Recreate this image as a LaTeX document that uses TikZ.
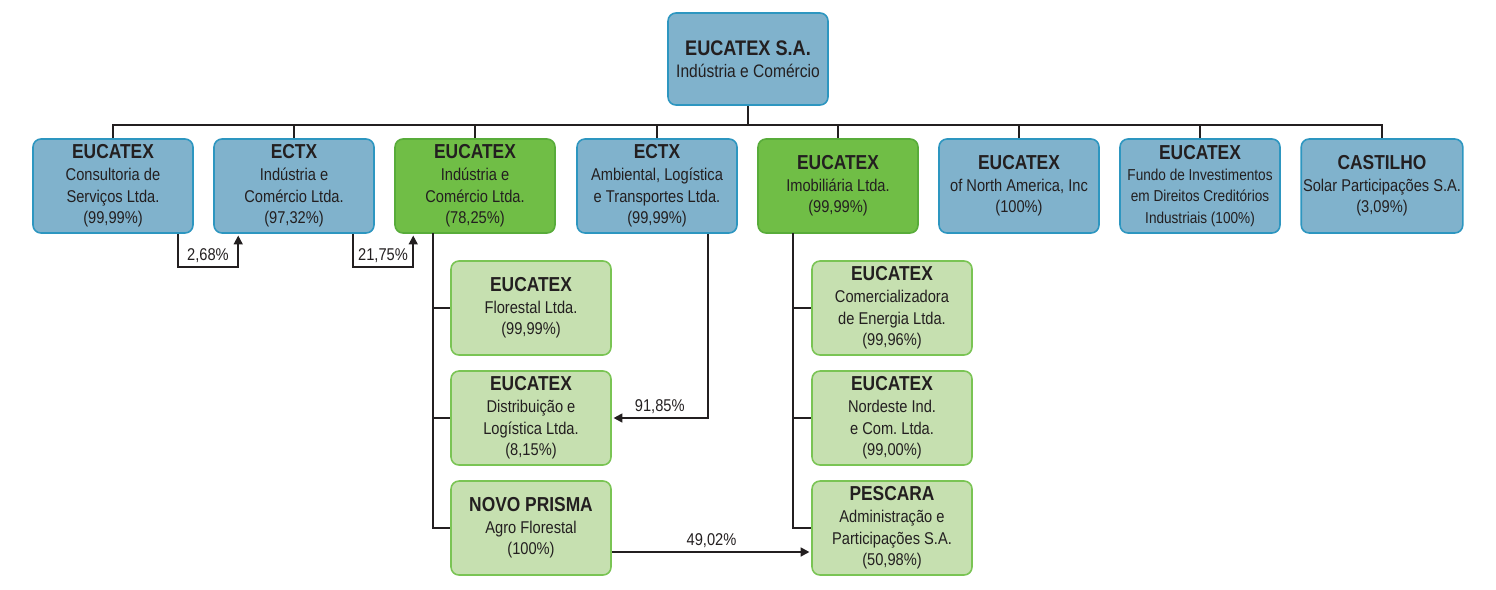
\documentclass[tikz,border=0pt]{standalone}
\usepackage{fontspec}
\setmainfont{Liberation Sans}[FakeStretch=0.86]
\usepackage{xcolor}
\usetikzlibrary{arrows.meta}

\definecolor{unitblue}{RGB}{128,178,204}
\definecolor{edgeblue}{RGB}{45,150,192}
\definecolor{unitgreen}{RGB}{112,190,70}
\definecolor{edgegreen}{RGB}{88,172,58}
\definecolor{unitpale}{RGB}{198,224,176}
\definecolor{edgepale}{RGB}{122,196,84}
\definecolor{inkgray}{RGB}{35,31,32}

\newcommand{\hd}[1]{{\fontsize{11.5}{12.3}\selectfont\bfseries #1}}
\frenchspacing

\begin{document}
\begin{tikzpicture}[x=0.02cm, y=-0.02cm,
  unit/.style={line width=0.9pt, rounded corners=4.5pt, minimum width=3.2cm,
    minimum height=1.88cm, inner sep=1pt, align=center, text=inkgray,
    font=\fontsize{9.7}{12.3}\selectfont},
  blueunit/.style={unit, draw=edgeblue, fill=unitblue},
  greenunit/.style={unit, draw=edgegreen, fill=unitgreen},
  paleunit/.style={unit, draw=edgepale, fill=unitpale},
  link/.style={line width=1.1pt, draw=inkgray},
  stake/.style={link, -{Triangle[length=5pt,width=5pt]}, shorten >=1pt},
  pct/.style={text=inkgray, font=\fontsize{9.7}{12}\selectfont, inner sep=2pt, above}
]
  \useasboundingbox (0,0) rectangle (1496,589);

  % Holding
  \node[blueunit, minimum height=1.84cm,
    font=\fontsize{10.3}{12.8}\selectfont] (top) at (748,59)
    {{\fontsize{12}{12.8}\selectfont\bfseries EUCATEX S.A.}\\Indústria e Comércio};

  % First level
  \node[blueunit] (c1) at (113,186) {\hd{EUCATEX}\\Consultoria de\\Serviços Ltda.\\(99,99\%)};
  \node[blueunit] (c2) at (294,186) {\hd{ECTX}\\Indústria e\\Comércio Ltda.\\(97,32\%)};
  \node[greenunit] (c3) at (475,186) {\hd{EUCATEX}\\Indústria e\\Comércio Ltda.\\(78,25\%)};
  \node[blueunit] (c4) at (657,186) {\hd{ECTX}\\Ambiental, Logística\\e Transportes Ltda.\\(99,99\%)};
  \node[greenunit] (c5) at (838,186) {\hd{EUCATEX}\\Imobiliária Ltda.\\(99,99\%)};
  \node[blueunit] (c6) at (1019,186) {\hd{EUCATEX}\\of North America, Inc\\(100\%)};
  \node[blueunit, font=\fontsize{9}{12}\selectfont] (c7) at (1200,186)
    {\hd{EUCATEX}\\Fundo de Investimentos\\em Direitos Creditórios\\Industriais (100\%)};
  \node[blueunit] (c8) at (1382,186) {\hd{CASTILHO}\\Solar Participações S.A.\\(3,09\%)};

  % Second level, left
  \node[paleunit] (fl) at (531,308) {\hd{EUCATEX}\\Florestal Ltda.\\(99,99\%)};
  \node[paleunit] (dl) at (531,418) {\hd{EUCATEX}\\Distribuição e\\Logística Ltda.\\(8,15\%)};
  \node[paleunit] (np) at (531,528) {\hd{NOVO PRISMA}\\Agro Florestal\\(100\%)};

  % Second level, right
  \node[paleunit] (ce) at (892,308) {\hd{EUCATEX}\\Comercializadora\\de Energia Ltda.\\(99,96\%)};
  \node[paleunit] (ne) at (892,418) {\hd{EUCATEX}\\Nordeste Ind.\\e Com. Ltda.\\(99,00\%)};
  \node[paleunit] (pe) at (892,528) {\hd{PESCARA}\\Administração e\\Participações S.A.\\(50,98\%)};

  % Tree lines
  \coordinate (bus) at (748,125);
  \draw[link] (top.south) -- (bus);
  \draw[link] (c1.north) -- (c1.north |- bus) -- (c8.north |- bus) -- (c8.north);
  \foreach \c in {c2,c3,c4,c5,c6,c7}
    \draw[link] (\c.north) -- (\c.north |- bus);

  \coordinate (lspine) at (433,233);
  \foreach \c in {fl,dl,np}
    \draw[link] (lspine) |- (\c.west);
  \coordinate (rspine) at (793,233);
  \foreach \c in {ce,ne,pe}
    \draw[link] (rspine) |- (\c.west);

  % Cross holdings
  \draw[stake] ([xshift=-0.32cm]c1.south east) -- ++(0,33)
    -| node[pct, pos=0.25] {2,68\%} ([xshift=0.5cm]c2.south west);
  \draw[stake] ([xshift=-0.44cm]c2.south east) -- ++(0,33)
    -| node[pct, pos=0.25] {21,75\%} ([xshift=0.38cm]c3.south west);
  \draw[stake] ([xshift=-0.6cm]c4.south east) |- node[pct, pos=0.75] {91,85\%} (dl.east);
  \draw[stake] ([yshift=-0.48cm]np.east) -- node[pct] {49,02\%} ([yshift=-0.48cm]pe.west);
\end{tikzpicture}
\end{document}
